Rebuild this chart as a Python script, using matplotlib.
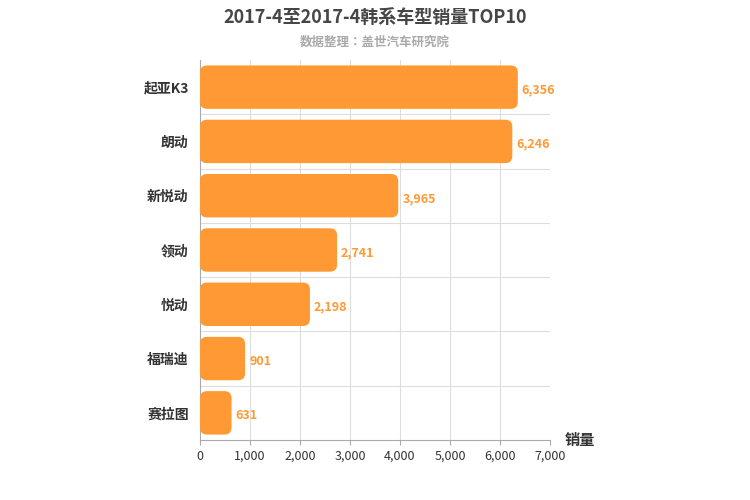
import matplotlib
matplotlib.use("Agg")
import matplotlib.pyplot as plt
from matplotlib.patches import FancyBboxPatch

plt.rcParams["font.family"] = ["Noto Sans CJK JP", "Noto Sans CJK SC", "Noto Sans CJK TC",
                               "Noto Sans CJK KR", "DejaVu Sans"]

categories = ["起亚K3", "朗动", "新悦动", "领动", "悦动", "福瑞迪", "赛拉图"]
values = [6356, 6246, 3965, 2741, 2198, 901, 631]
xticks = [0, 1000, 2000, 3000, 4000, 5000, 6000, 7000]

color = "#FF9933"
fig = plt.figure(figsize=(7.5, 5), dpi=100)
ax = fig.add_axes([200/750, 60/500, 350/750, 380/500])
n = len(categories)
ax.set_xlim(0, 7000)
ax.set_ylim(n - 0.5, -0.5)

px_x = 7000 / 350
px_y = n / 380
h = 0.8
for i, v in enumerate(values):
    p = FancyBboxPatch((0, i - h/2), v, h,
                       boxstyle="round,pad=0,rounding_size=%f" % (7 * px_x),
                       mutation_aspect=px_y / px_x,
                       fc=color, ec="none", zorder=3)
    ax.add_patch(p)
    ax.text(v + 4 * px_x, i + 0.05, f"{v:,}", va="center", ha="left",
            color=color, fontsize=9, fontweight="bold", zorder=4)

ax.set_yticks(range(n))
ax.set_yticklabels(categories, fontsize=10, color="#333333", fontweight="bold")
ax.set_xticks(xticks)
ax.set_xticklabels([f"{t:,}" for t in xticks], fontsize=9, color="#333333")
for t in xticks[1:]:
    ax.axvline(t, color="#dddddd", lw=0.8, zorder=1)
for b in range(1, n):
    ax.axhline(b - 0.5, color="#dddddd", lw=0.8, zorder=1)
for s in ["top", "right"]:
    ax.spines[s].set_visible(False)
ax.spines["bottom"].set_color("#aaaaaa")
ax.spines["left"].set_color("#aaaaaa")
ax.tick_params(axis="y", length=0, pad=8)
ax.tick_params(axis="x", color="#aaaaaa")

fig.text(0.5, 0.965, "2017-4至2017-4韩系车型销量TOP10", ha="center", va="center",
         fontsize=13, fontweight="bold", color="#464646")
fig.text(0.5, 0.915, "数据整理：盖世汽车研究院", ha="center", va="center",
         fontsize=9, fontweight="bold", color="#aaaaaa")
fig.text(580/750, 1 - 440/500, "销量", ha="center", va="center",
         fontsize=11, color="#333333", fontweight="bold")
fig.savefig("out.png", dpi=100)
